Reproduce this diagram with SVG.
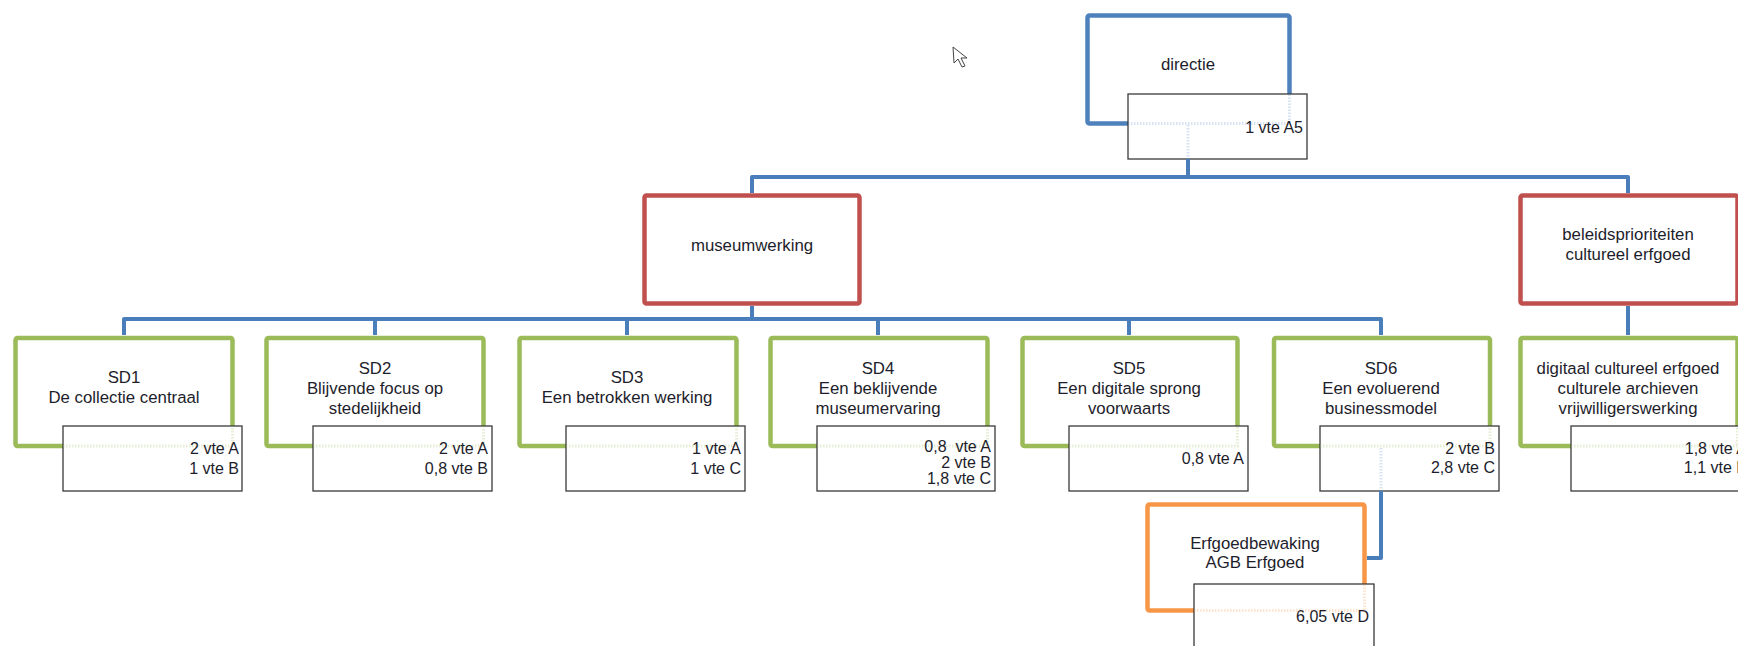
<svg xmlns="http://www.w3.org/2000/svg" width="1738" height="646" viewBox="0 0 1738 646">
<style>
text{font-family:"Liberation Sans",Arial,sans-serif;font-size:16px;fill:#1d1d2b;}
.c{text-anchor:middle;font-size:16.8px}
.r{text-anchor:end;white-space:pre}
.blue{fill:none;stroke:#4F81BD;stroke-width:4.5}
.red{fill:none;stroke:#C0504D;stroke-width:4.5}
.green{fill:none;stroke:#9BBB59;stroke-width:4.5}
.orange{fill:none;stroke:#F79646;stroke-width:4.5}
.val{fill:#fff;stroke:#3a3a3a;stroke-width:1.3}
.fg{fill:none;stroke:#9BBB59;stroke-width:3;stroke-opacity:0.25;stroke-dasharray:1.5 1.5}
.fb{fill:none;stroke:#4F81BD;stroke-width:3;stroke-opacity:0.22;stroke-dasharray:1.5 1.5}
.fo{fill:none;stroke:#F79646;stroke-width:3;stroke-opacity:0.25;stroke-dasharray:1.5 1.5}
.con{fill:none;stroke:#4A7EBB;stroke-width:4;stroke-linejoin:round}
</style>
<rect width="1738" height="646" fill="#fff"/>

<g id="directie">
<rect class="blue" x="1087.5" y="15.5" width="202" height="108" rx="2"/>
<text class="c" x="1188" y="70">directie</text>
<rect class="val" x="1128" y="94" width="179" height="65"/>
<path class="fb" d="M1128,123.5 H1289.5 V94"/>
<text class="r" x="1303" y="133">1 vte A5</text>
</g>

<g id="museumwerking">
<rect class="red" x="644.5" y="195.5" width="215" height="108" rx="2"/>
<text class="c" x="752" y="251">museumwerking</text>
</g>

<g id="beleidsprioriteiten">
<rect class="red" x="1520.5" y="195.5" width="217" height="108" rx="2"/>
<text class="c" x="1628" y="240">beleidsprioriteiten</text>
<text class="c" x="1628" y="260">cultureel erfgoed</text>
</g>

<g id="sd1">
<rect class="green" x="15.5" y="338" width="217" height="108" rx="2"/>
<text class="c" x="124" y="383">SD1</text>
<text class="c" x="124" y="403">De collectie centraal</text>
<rect class="val" x="63" y="426" width="179" height="65"/>
<path class="fg" d="M63,446 H232.5 V426"/>
<text class="r" x="239" y="454">2 vte A</text>
<text class="r" x="239" y="474">1 vte B</text>
</g>

<g id="sd2">
<rect class="green" x="266.5" y="338" width="217" height="108" rx="2"/>
<text class="c" x="375" y="374">SD2</text>
<text class="c" x="375" y="394">Blijvende focus op</text>
<text class="c" x="375" y="414">stedelijkheid</text>
<rect class="val" x="313" y="426" width="179" height="65"/>
<path class="fg" d="M313,446 H483.5 V426"/>
<text class="r" x="488" y="454">2 vte A</text>
<text class="r" x="488" y="474">0,8 vte B</text>
</g>

<g id="sd3">
<rect class="green" x="519.5" y="338" width="217" height="108" rx="2"/>
<text class="c" x="627" y="383">SD3</text>
<text class="c" x="627" y="403">Een betrokken werking</text>
<rect class="val" x="566" y="426" width="179" height="65"/>
<path class="fg" d="M566,446 H736.5 V426"/>
<text class="r" x="741" y="454">1 vte A</text>
<text class="r" x="741" y="474">1 vte C</text>
</g>

<g id="sd4">
<rect class="green" x="770.5" y="338" width="217" height="108" rx="2"/>
<text class="c" x="878" y="374">SD4</text>
<text class="c" x="878" y="394">Een beklijvende</text>
<text class="c" x="878" y="414">museumervaring</text>
<rect class="val" x="817" y="426" width="178" height="65"/>
<path class="fg" d="M817,446 H987.5 V426"/>
<text class="r" x="991" y="452">0,8  vte A</text>
<text class="r" x="991" y="468">2 vte B</text>
<text class="r" x="991" y="484">1,8 vte C</text>
</g>

<g id="sd5">
<rect class="green" x="1022.5" y="338" width="215" height="108" rx="2"/>
<text class="c" x="1129" y="374">SD5</text>
<text class="c" x="1129" y="394">Een digitale sprong</text>
<text class="c" x="1129" y="414">voorwaarts</text>
<rect class="val" x="1069" y="426" width="179" height="65"/>
<path class="fg" d="M1069,446 H1237.5 V426"/>
<text class="r" x="1244" y="464">0,8 vte A</text>
</g>

<g id="sd6">
<rect class="green" x="1274" y="338" width="216" height="108" rx="2"/>
<text class="c" x="1381" y="374">SD6</text>
<text class="c" x="1381" y="394">Een evoluerend</text>
<text class="c" x="1381" y="414">businessmodel</text>
<rect class="val" x="1320" y="426" width="179" height="65"/>
<path class="fg" d="M1320,446 H1490 V426"/>
<text class="r" x="1495" y="454">2 vte B</text>
<text class="r" x="1495" y="473">2,8 vte C</text>
</g>

<g id="digitaal">
<rect class="green" x="1520.5" y="338" width="217" height="108" rx="2"/>
<text class="c" x="1628" y="374">digitaal cultureel erfgoed</text>
<text class="c" x="1628" y="394">culturele archieven</text>
<text class="c" x="1628" y="414">vrijwilligerswerking</text>
<rect class="val" x="1571" y="426" width="180" height="65"/>
<path class="fg" d="M1571,446 H1737.5 V426"/>
<text class="r" x="1747" y="454">1,8 vte A</text>
<text class="r" x="1747" y="473">1,1 vte B</text>
</g>

<g id="erfgoedbewaking">
<rect class="orange" x="1147.5" y="504.5" width="217" height="106" rx="2"/>
<text class="c" x="1255" y="549">Erfgoedbewaking</text>
<text class="c" x="1255" y="568">AGB Erfgoed</text>
<rect class="val" x="1194" y="584" width="180" height="66"/>
<path class="fo" d="M1194,610.5 H1364.5 V584"/>
<text class="r" x="1369" y="622">6,05 vte D</text>
</g>

<g id="connectors">
<path class="con" d="M752,193 V177 H1628 V193"/>
<path class="con" d="M1188,159 V177"/>
<path class="fb" d="M1188,125 V159"/>
<path class="con" d="M752,306 V319"/>
<path class="con" d="M124,335 V319 H1381 V335"/>
<path class="con" d="M375,319 V335 M627,319 V335 M878,319 V335 M1129,319 V335"/>
<path class="con" d="M1628,306 V335"/>
<path class="fb" d="M1381,448 V491"/>
<path class="con" d="M1381,491 V558 H1367"/>
</g>

<path d="M953,47 L954,63 L958,59 L962,67 L965,66 L961,58 L967,58 Z" fill="#fff" stroke="#444" stroke-width="1" stroke-linejoin="round"/>
</svg>
